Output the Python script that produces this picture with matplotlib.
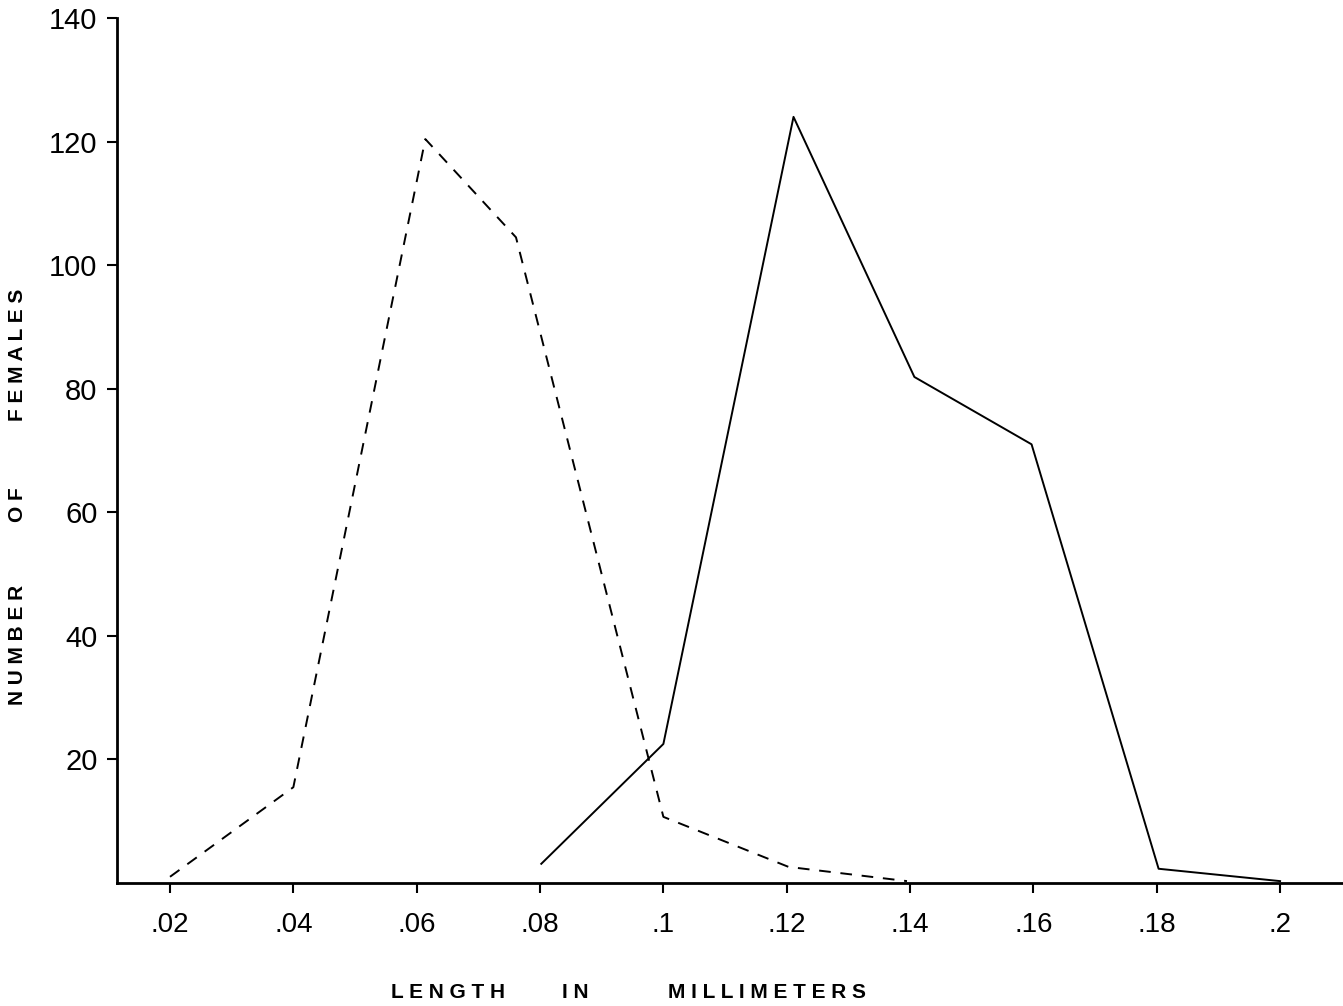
import numpy as np
import matplotlib.pyplot as plt

plt.rcParams['font.family'] = ['Liberation Sans', 'DejaVu Sans']

# dashed series
len_a = [0.02, 0.04, 0.0614, 0.0761, 0.1, 0.1203, 0.1395]
num_a = [1.0, 15.5, 120.4, 104.5, 10.7, 2.6, 0.3]

# solid series
len_b = [0.0802, 0.1, 0.1211, 0.1407, 0.1597, 0.1803, 0.2]
num_b = [3.1, 22.5, 124.0, 81.9, 71.0, 2.3, 0.3]

x_ticks = [0.02, 0.04, 0.06, 0.08, 0.1, 0.12, 0.14, 0.16, 0.18, 0.2]
x_labels = [".02", ".04", ".06", ".08", ".1", ".12", ".14", ".16", ".18", ".2"]
y_ticks = [20, 40, 60, 80, 100, 120, 140]

fig = plt.figure(figsize=(13.43, 10.06), dpi=100)
ax = fig.add_axes([0.0871, 0.1223, 0.9129, 0.8598])

ax.plot(len_a, num_a, color="black", linewidth=1.4, linestyle=(0, (6, 5)))
ax.plot(len_b, num_b, color="black", linewidth=1.4)

ax.set_xlim(0.0114, 0.2102)
ax.set_ylim(0, 140)

ax.set_xticks(x_ticks)
ax.set_xticklabels(x_labels)
ax.set_yticks(y_ticks)

ax.spines["top"].set_visible(False)
ax.spines["right"].set_visible(False)
ax.spines["left"].set_linewidth(2)
ax.spines["bottom"].set_linewidth(2)

ax.tick_params(axis="y", direction="out", length=7, width=1.5, pad=7, labelsize=21)
ax.tick_params(axis="x", direction="out", length=7, width=1.5, pad=14, labelsize=20)

# spaced-out axis titles
for word, xc in [("L E N G T H", 0.3336), ("I N", 0.4281), ("M I L L I M E T E R S", 0.5711)]:
    fig.text(xc, 0.0139, word, ha="center", va="center", fontsize=15, fontweight="bold")

for word, yc in [("N U M B E R", 0.3588), ("O F", 0.498), ("F E M A L E S", 0.647)]:
    fig.text(0.0134, yc, word, ha="center", va="center", rotation=90, fontsize=15, fontweight="bold")

plt.savefig("out.png", dpi=100)
